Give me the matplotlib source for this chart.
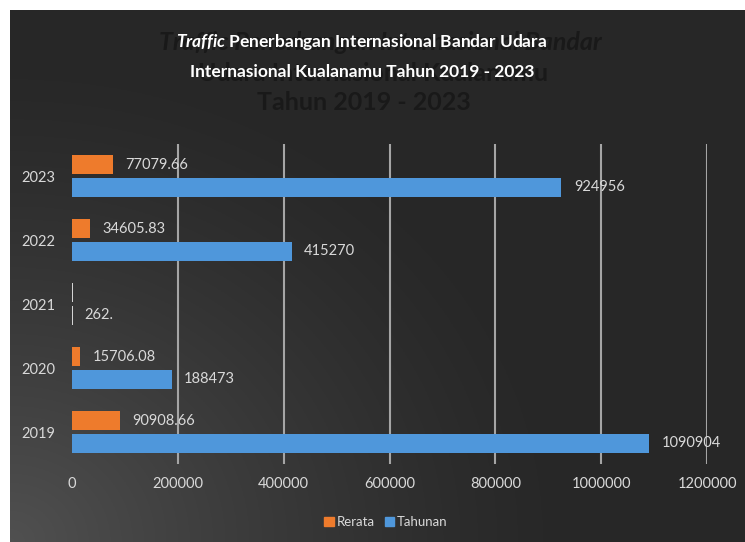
import numpy as np
import matplotlib.pyplot as plt
from matplotlib.patches import Patch

plt.rcParams["font.family"] = ["Lato", "DejaVu Sans"]
plt.rcParams["mathtext.fontset"] = "custom"
plt.rcParams["mathtext.it"] = "Lato:italic:bold"
plt.rcParams["mathtext.rm"] = "Lato:bold"

years = ["2019", "2020", "2021", "2022", "2023"]
rerata = [90908.66, 15706.08, 21.83, 34605.83, 77079.66]
tahunan = [1090904, 188473, 262, 415270, 924956]
rerata_labels = ["90908.66", "15706.08", "", "34605.83", "77079.66"]
tahunan_labels = ["1090904", "188473", "262.", "415270", "924956"]
xticks = [0, 200000, 400000, 600000, 800000, 1000000, 1200000]

txt = "#d9d9d9"
orange = "#ee7b2c"
blue = "#4f97db"

fig = plt.figure(figsize=(7.45, 5.42), dpi=100, facecolor="white")

# dark background panel with soft glow from bottom-left
bg = fig.add_axes([10 / 745, 0, 735 / 745, 532 / 542], zorder=-5)
ny, nx = 300, 400
yy, xx = np.mgrid[0:1:ny * 1j, 0:1:nx * 1j]
d = np.sqrt((xx / 0.75) ** 2 + ((1 - yy) / 0.9) ** 2)
glow = np.clip(1 - d, 0, 1) ** 1.3
shade = 0.155 + 0.16 * glow
img = np.dstack([shade, shade, shade])
bg.imshow(img, aspect="auto", extent=[0, 1, 0, 1], origin="upper")
bg.set_axis_off()

# faint duplicate title behind the real one
ghost = "#191919"
fig.text(0.51, 0.921, "Traffic Penerbangan Internasional Bandar", ha="center", va="center",
         fontsize=18, fontweight="bold", color=ghost, style="italic")
fig.text(0.5, 0.864, "Udara Internasional Kualanamu", ha="center", va="center",
         fontsize=18, fontweight="bold", color=ghost)
fig.text(0.488, 0.81, "Tahun 2019 - 2023", ha="center", va="center",
         fontsize=18, fontweight="bold", color=ghost)

fig.text(0.486, 0.922, r"$\it{Traffic}$ Penerbangan Internasional Bandar Udara",
         ha="center", va="center", fontsize=12.5, fontweight="bold", color="white")
fig.text(0.486, 0.867, "Internasional Kualanamu Tahun 2019 - 2023",
         ha="center", va="center", fontsize=12.5, fontweight="bold", color="white")

ax = fig.add_axes([72 / 745, 1 - 464 / 542, 635 / 745, 320 / 542])
ax.patch.set_alpha(0)
y = np.arange(len(years))
h = 0.3
off = 0.175
ec_r = [txt if v < 1000 else "none" for v in rerata]
ec_t = [txt if v < 1000 else "none" for v in tahunan]
b1 = ax.barh(y + off, rerata, height=h, color=orange, edgecolor=ec_r, linewidth=1.4, zorder=3)
b2 = ax.barh(y - off, tahunan, height=h, color=blue, edgecolor=ec_t, linewidth=1.4, zorder=3)
ax.bar_label(b1, labels=rerata_labels, padding=9, color=txt, fontsize=10.5, zorder=4)
ax.bar_label(b2, labels=tahunan_labels, padding=9, color=txt, fontsize=10.5, zorder=4)

ax.set_xlim(0, 1200000)
ax.set_ylim(-0.5, 4.5)
ax.set_xticks(xticks)
ax.set_xticklabels([str(v) for v in xticks])
ax.set_yticks(y)
ax.set_yticklabels(years)
ax.tick_params(axis="both", colors=txt, labelsize=10.5, length=0)
ax.tick_params(axis="x", pad=9)
ax.tick_params(axis="y", pad=12)
ax.grid(axis="x", color="#a5a5a5", linewidth=1.5, zorder=1)
ax.xaxis.get_gridlines()[0].set_visible(False)
for s in ax.spines.values():
    s.set_visible(False)

handles = [Patch(color=orange, label="Rerata"), Patch(color=blue, label="Tahunan")]
fig.legend(handles=handles, loc="center", bbox_to_anchor=(0.518, 0.037), ncol=2,
           frameon=False, fontsize=9.5, labelcolor=txt, handlelength=0.7, handleheight=0.7,
           handletextpad=0.2, columnspacing=0.8)

fig.savefig("out.png", dpi=100, facecolor="white")
